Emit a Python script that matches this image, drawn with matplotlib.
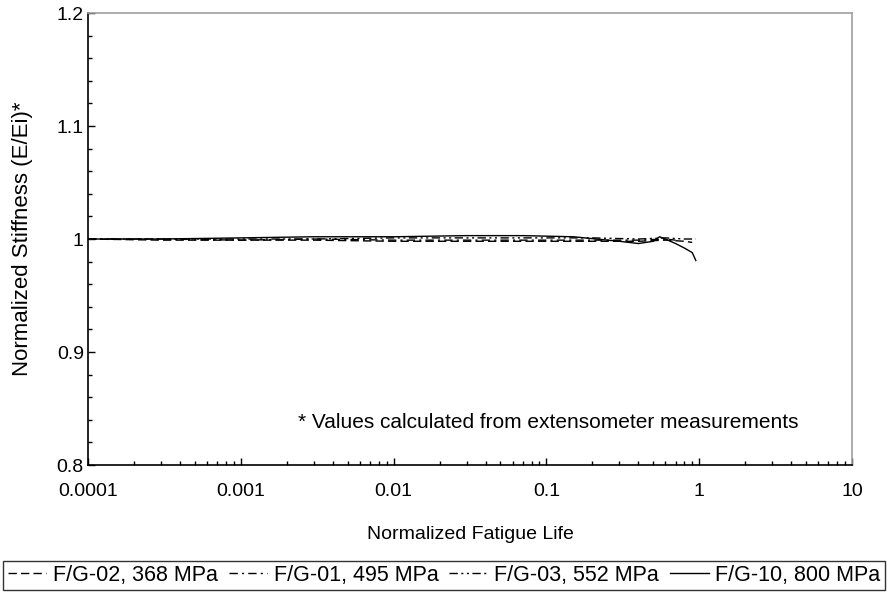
import matplotlib
matplotlib.use('Agg')
import matplotlib.pyplot as plt
from matplotlib.ticker import FixedLocator, LogLocator, NullFormatter, MultipleLocator

plt.rcParams['font.family'] = ['Liberation Sans', 'DejaVu Sans']

# Data
x_fg02 = [0.0001, 0.0003, 0.001, 0.003, 0.01, 0.03, 0.1, 0.2, 0.4, 0.6, 0.8, 0.9]
y_fg02 = [1.000, 0.999, 0.999, 0.999, 0.998, 0.998, 0.998, 0.998, 0.998, 0.999, 0.998, 0.997]

x_fg01 = [0.0001, 0.0003, 0.001, 0.003, 0.01, 0.03, 0.1, 0.2, 0.4, 0.6, 0.7]
y_fg01 = [1.000, 1.000, 0.999, 1.000, 0.999, 0.999, 0.999, 0.999, 0.999, 1.000, 0.999]

x_fg03 = [0.0001, 0.0003, 0.001, 0.003, 0.01, 0.03, 0.1, 0.2, 0.4, 0.6, 0.8, 0.95]
y_fg03 = [1.000, 1.000, 1.000, 1.000, 1.001, 1.001, 1.001, 1.001, 1.000, 1.001, 1.000, 1.000]

x_fg10 = [0.0001, 0.0003, 0.001, 0.003, 0.01, 0.03, 0.07, 0.15, 0.3, 0.4, 0.5, 0.55, 0.6, 0.7, 0.8, 0.9, 0.95]
y_fg10 = [1.000, 1.000, 1.001, 1.002, 1.002, 1.003, 1.003, 1.002, 0.998, 0.996, 0.998, 1.002, 1.000, 0.996, 0.992, 0.988, 0.981]

labels = ['F/G-02, 368 MPa', 'F/G-01, 495 MPa', 'F/G-03, 552 MPa', 'F/G-10, 800 MPa']
xticks = [0.0001, 0.001, 0.01, 0.1, 1, 10]
xtick_labels = ['0.0001', '0.001', '0.01', '0.1', '1', '10']
yticks = [0.8, 0.9, 1.0, 1.1, 1.2]
ytick_labels = ['0.8', '0.9', '1', '1.1', '1.2']

fig = plt.figure(figsize=(8.88, 5.92), dpi=100)
ax = fig.add_axes([0.0991, 0.2145, 0.8604, 0.7635])

ax.plot(x_fg02, y_fg02, color='black', lw=1, linestyle=(0, (6, 3)), label=labels[0])
ax.plot(x_fg01, y_fg01, color='black', lw=1, linestyle=(0, (6, 3, 1.5, 3)), label=labels[1])
ax.plot(x_fg03, y_fg03, color='black', lw=1, linestyle=(0, (6, 2.5, 1.5, 2.5, 1.5, 2.5)), label=labels[2])
ax.plot(x_fg10, y_fg10, color='black', lw=1, linestyle='-', label=labels[3])

ax.set_xscale('log')
ax.set_xlim(0.0001, 10)
ax.set_ylim(0.8, 1.2)
ax.xaxis.set_major_locator(FixedLocator(xticks))
ax.set_xticklabels(xtick_labels)
ax.xaxis.set_minor_locator(LogLocator(base=10, subs=range(2, 10)))
ax.xaxis.set_minor_formatter(NullFormatter())
ax.set_yticks(yticks)
ax.set_yticklabels(ytick_labels)
ax.yaxis.set_minor_locator(MultipleLocator(0.02))

ax.tick_params(which='both', direction='in', labelsize=14, colors='black')
ax.tick_params(which='major', length=5, width=1)
ax.tick_params(which='minor', length=3, width=1)
ax.tick_params(axis='x', which='major', pad=13)
ax.tick_params(axis='y', which='major', pad=3)

for s in ['left', 'bottom']:
    ax.spines[s].set_color('black')
    ax.spines[s].set_linewidth(1.2)
for s in ['top', 'right']:
    ax.spines[s].set_color('#a0a0a0')
    ax.spines[s].set_linewidth(1.2)

ax.set_xlabel('Normalized Fatigue Life', fontsize=14, labelpad=19)
ax.set_ylabel('Normalized Stiffness (E/Ei)*', fontsize=16, labelpad=17)

ax.text(0.275, 0.093, '* Values calculated from extensometer measurements',
        transform=ax.transAxes, fontsize=15, va='center', ha='left')

leg = fig.legend(loc='lower center', bbox_to_anchor=(0.5, 0.003),
                 ncol=4, fontsize=15.5, frameon=True, fancybox=False, edgecolor='black',
                 handlelength=1.8, columnspacing=0.5, handletextpad=0.3, borderpad=0.2,
                 borderaxespad=0.0)
leg.get_frame().set_linewidth(1)

fig.savefig('out.png', dpi=100)
